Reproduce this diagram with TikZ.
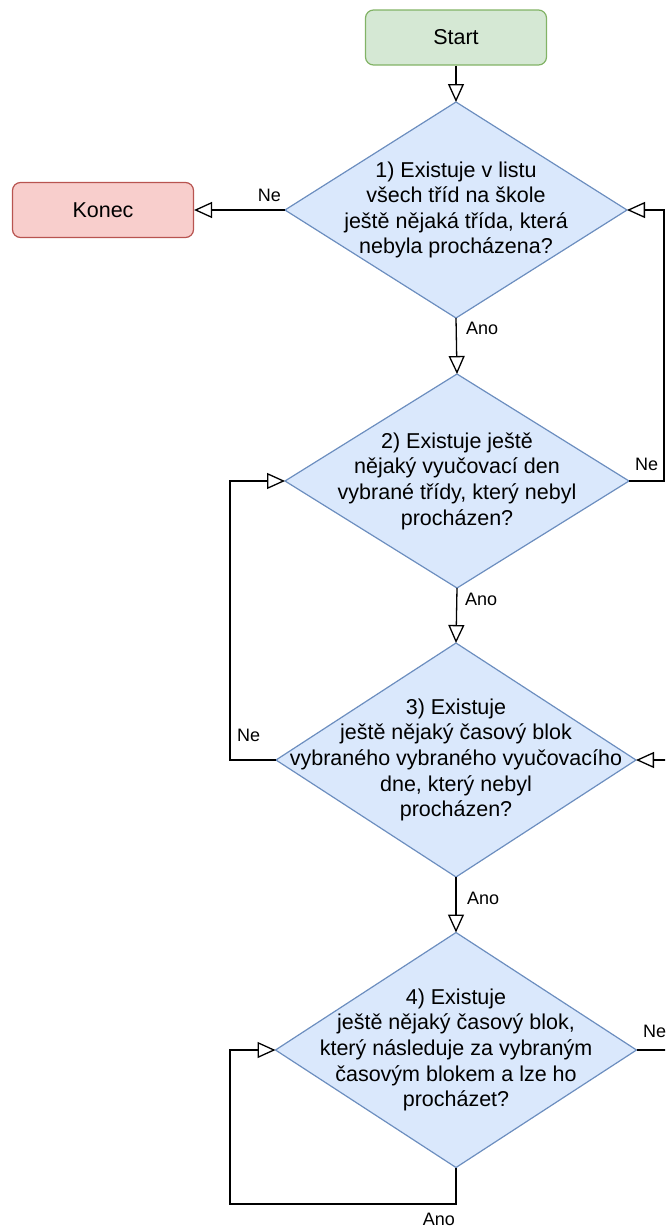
\documentclass[tikz,border=0pt]{standalone}
\usepackage{fontspec}
\setmainfont{Liberation Sans}
\usetikzlibrary{arrows.meta,shapes.geometric}
\definecolor{greenfill}{HTML}{D5E8D4}
\definecolor{greenline}{HTML}{82B366}
\definecolor{redfill}{HTML}{F8CECC}
\definecolor{redline}{HTML}{B85450}
\definecolor{bluefill}{HTML}{DAE8FC}
\definecolor{blueline}{HTML}{6C8EBF}
\begin{document}
\begin{tikzpicture}[x=1pt,y=1pt,
  term/.style={rounded corners=8pt, line width=1.2pt, inner sep=0pt,
    minimum width=181pt, minimum height=55pt,
    font=\fontsize{21.5}{25.6}\selectfont},
  decision/.style={diamond, draw=blueline, fill=bluefill, line width=1.2pt,
    inner sep=0pt, outer sep=0pt},
  qtext/.style={align=center, inner sep=0pt, font=\fontsize{21.5}{25.6}\selectfont},
  lab/.style={inner sep=0pt, font=\fontsize{18}{21}\selectfont},
  edge/.style={draw=black, line width=1.3pt,
    -{Triangle[open, length=18pt, width=16pt]}},
  plain/.style={draw=black, line width=1.3pt}
]
\useasboundingbox (0,0) rectangle (665,-1229);
\clip (0,0) rectangle (665,-1229);

% terminals
\node[term, draw=greenline, fill=greenfill] (start) at (456,-37.5) {Start};
\node[term, draw=redline, fill=redfill] (konec) at (103,-210) {Konec};

% decisions
\node[decision, minimum width=342pt, minimum height=216pt] (d1) at (456,-210) {};
\node[qtext] (t1) at (d1.center) {1) Existuje v listu\\všech tříd na škole\\ještě nějaká třída, která\\nebyla procházena?};

\node[decision, minimum width=344pt, minimum height=214pt] (d2) at (457,-481) {};
\node[qtext] (t2) at (d2.center) {2) Existuje ještě\\nějaký vyučovací den\\vybrané třídy, který nebyl\\procházen?};

\node[decision, minimum width=360pt, minimum height=234pt] (d3) at (456,-760) {};
\node[qtext] (t3) at (d3.center) {3) Existuje\\ještě nějaký časový blok\\vybraného vybraného vyučovacího\\dne, který nebyl\\procházen?};

\node[decision, minimum width=361pt, minimum height=235pt] (d4) at (456,-1050) {};
\node[qtext] (t4) at (d4.center) {4) Existuje\\ještě nějaký časový blok,\\který následuje za vybraným\\časovým blokem a lze ho\\procházet?};

% bend points and free ends
\coordinate (loopR) at (664,-481);
\coordinate (loopL) at (230,-760);
\coordinate (inR) at (700,-760);
\coordinate (outR) at (700,-1050);
\coordinate (loopB) at (456,-1204);
\coordinate (loopBL) at (230,-1050);

% connectors
\draw[edge] (start.south) -- (d1.north);
\draw[edge] (d1.west) -- (konec.east);
\draw[edge] (d1.south) -- (d2.north);
\draw[edge] (d2.east) -- (loopR) |- (d1.east);
\draw[edge] (d2.south) -- (d3.north);
\draw[edge] (d3.west) -- (loopL) |- (d2.west);
\draw[edge] (inR) -- (d3.east);
\draw[edge] (d3.south) -- (d4.north);
\draw[plain] (d4.east) -- (outR);
\draw[edge] (d4.south) -- (loopB) -| (loopBL) -- (d4.west);

% connector labels
\node[lab, anchor=south east] (ne1) at (281,-202) {Ne};
\node[lab, anchor=north west] (ano1) at (466,-322) {Ano};
\node[lab, anchor=south west] (ne2) at (635,-471) {Ne};
\node[lab, anchor=north west] (ano2) at (465,-593) {Ano};
\node[lab, anchor=south west] (ne3) at (237,-742) {Ne};
\node[lab, anchor=north west] (ano3) at (467,-892) {Ano};
\node[lab, anchor=south west] (ne4) at (643,-1038) {Ne};
\node[lab, anchor=north east] (ano4) at (455,-1213) {Ano};
\end{tikzpicture}
\end{document}
